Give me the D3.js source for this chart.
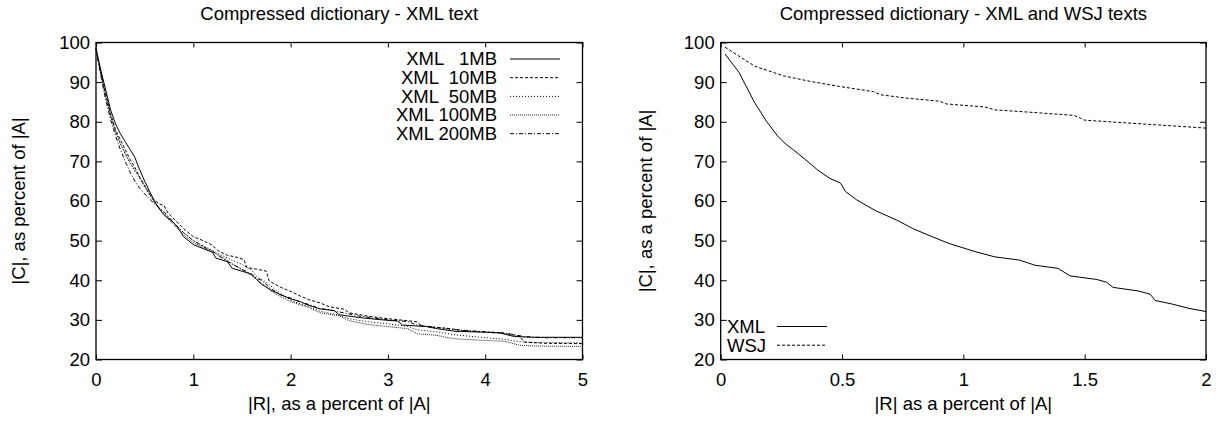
<!DOCTYPE html>
<html><head><meta charset="utf-8">
<script src="https://cdn.jsdelivr.net/npm/d3@7/dist/d3.min.js"></script>
<style>
body{margin:0;background:#fff;}
text{font-family:"Liberation Sans",Arial,Helvetica,sans-serif;fill:#000;}
</style></head><body>
<svg id="c" width="1220" height="422"></svg>
<script>
// ---------- data ----------
const leftXTicks = [0,1,2,3,4,5];
const rightXTicks = [0,0.5,1,1.5,2];
const yTicks = [20,30,40,50,60,70,80,90,100];

const leftLabels = ["XML   1MB","XML  10MB","XML  50MB","XML 100MB","XML 200MB"];
const rightLabels = ["XML","WSJ"];

const xml1mb = [[0,98.5],[0.05,93],[0.1,88],[0.15,83],[0.2,79.5],[0.25,77],[0.3,75],[0.35,73],[0.4,71],[0.43,69],[0.5,65],[0.55,62.5],[0.6,60],[0.65,58],[0.7,56.5],[0.8,54.5],[0.85,53],[0.9,51],[1.0,49],[1.1,48],[1.2,47],[1.23,45.6],[1.35,44.7],[1.4,43],[1.5,42.3],[1.6,41.5],[1.65,40.2],[1.7,39],[1.8,37.5],[1.9,36.3],[2.0,35.3],[2.1,34.6],[2.15,34],[2.3,32.8],[2.45,32.3],[2.5,31.3],[2.7,30.6],[2.9,30.1],[3.1,29.7],[3.15,28.7],[3.4,28.3],[3.5,27.8],[3.7,27.1],[4.0,26.9],[4.15,26.7],[4.3,25.8],[4.5,25.6],[5,25.6]];
const xml10mb = [[0,98.3],[0.05,92.5],[0.1,87],[0.15,82],[0.2,78],[0.25,75.5],[0.3,73],[0.35,70.5],[0.4,68.5],[0.45,66],[0.5,63.8],[0.55,61.8],[0.6,60.2],[0.65,59.3],[0.7,58.8],[0.74,57],[0.8,55.5],[0.9,53],[1.0,51],[1.1,50],[1.2,48.8],[1.25,47.5],[1.35,46.3],[1.45,45.8],[1.52,45.2],[1.55,43.2],[1.65,42.8],[1.75,42.3],[1.78,39.8],[1.9,38.2],[2.0,37.2],[2.1,36],[2.2,35],[2.3,34.3],[2.4,33.3],[2.55,32.7],[2.6,31.8],[2.8,30.9],[3.0,30.3],[3.2,29.8],[3.3,29.5],[3.35,28.4],[3.6,27.9],[3.7,27.6],[3.8,27.2],[4.0,26.9],[4.2,26.6],[4.35,25.9],[4.4,24.4],[4.6,24.1],[5,24.0]];
const xml50mb = [[0,98.5],[0.05,92],[0.1,86.5],[0.15,81.5],[0.2,77.5],[0.25,74.5],[0.3,72],[0.35,69.5],[0.4,67.5],[0.45,65.5],[0.5,63.5],[0.55,61.5],[0.6,59.5],[0.7,57],[0.8,54.5],[0.9,52],[1.0,50],[1.1,48.7],[1.2,47.5],[1.3,46.2],[1.4,45],[1.5,44],[1.55,43.3],[1.6,42.5],[1.65,41],[1.75,39.5],[1.85,37.5],[2.0,35],[2.1,34],[2.2,33.3],[2.3,32.2],[2.5,31.2],[2.6,30.3],[2.8,29.5],[3.0,29],[3.2,28.4],[3.3,27.5],[3.5,27],[3.7,26.2],[4.0,25.5],[4.2,25.1],[4.35,24.5],[4.5,24.3],[5,24.2]];
const xml100mb = [[0,98.4],[0.05,92],[0.1,86.5],[0.15,81.5],[0.2,77.5],[0.25,74.5],[0.3,72],[0.35,69.7],[0.4,67.8],[0.45,66],[0.5,64],[0.55,62],[0.6,59.8],[0.7,56.5],[0.8,54],[0.9,51.5],[1.0,49.5],[1.1,48.3],[1.2,47.2],[1.3,45.8],[1.4,44.2],[1.5,42.7],[1.6,41.2],[1.7,39.3],[1.8,37.3],[1.9,35.8],[2.0,34.6],[2.2,33],[2.3,31.8],[2.5,31],[2.6,29.8],[2.8,28.8],[3.0,28.3],[3.2,27.8],[3.3,26.5],[3.5,26.1],[3.6,25.6],[3.7,25.2],[4.0,24.8],[4.2,24.6],[4.35,23.6],[4.5,23.4],[5,23.3]];
const xml200mb = [[0,98.3],[0.05,91.5],[0.1,85.5],[0.15,80.5],[0.2,76.5],[0.25,73],[0.3,70],[0.35,67.3],[0.4,65],[0.45,63.2],[0.5,61.8],[0.55,60.5],[0.6,59.3],[0.7,57.3],[0.8,54.5],[0.9,52],[1.0,50],[1.1,48.5],[1.2,47.3],[1.3,45.5],[1.4,44],[1.5,42.8],[1.6,41.5],[1.65,40.5],[1.7,40],[1.8,37.8],[1.9,36.3],[2.0,35.5],[2.1,34.5],[2.2,33.8],[2.3,32.8],[2.4,32.6],[2.5,32],[2.7,31],[3.0,30],[3.2,29.6],[3.3,28.7],[3.5,28.1],[3.7,27.5],[4.0,27],[4.2,26.7],[4.4,25.8],[4.6,25.5],[5,25.5]];

const xmlText = [[0.018,97.1],[0.075,92.5],[0.14,84.8],[0.19,80],[0.237,76.2],[0.27,74.3],[0.3,72.9],[0.35,70.4],[0.4,67.8],[0.45,65.7],[0.494,64.5],[0.514,62.4],[0.56,60.3],[0.64,57.5],[0.725,55.2],[0.79,53.1],[0.855,51.4],[0.94,49.3],[1.05,47.2],[1.13,45.9],[1.23,45.1],[1.295,43.8],[1.39,43.0],[1.44,41.1],[1.55,40.2],[1.59,39.5],[1.617,38.2],[1.72,37.3],[1.77,36.5],[1.79,34.9],[1.86,34.0],[1.93,32.9],[2.0,32.1]];
const wsjText = [[0.018,98.8],[0.141,94.0],[0.258,91.6],[0.368,90.2],[0.49,88.9],[0.63,87.6],[0.66,86.8],[0.76,86.0],[0.9,85.2],[0.93,84.5],[1.09,83.7],[1.13,83.0],[1.3,82.3],[1.456,81.6],[1.5,80.4],[1.7,79.6],[2.0,78.4]];

// ---------- drawing ----------
const svg = d3.select("#c");
const FS = 18.5;
const plotTop = 42.5, plotBottom = 359.5;

function panel(cfg){
  const x = d3.scaleLinear().domain(cfg.xDomain).range([cfg.left, cfg.right]);
  const y = d3.scaleLinear().domain([20,100]).range([plotBottom, plotTop]);
  const g = svg.append("g");

  const ax = g.append("g").attr("transform",`translate(0,${plotBottom})`)
    .call(d3.axisBottom(x).tickValues(cfg.xTicks).tickSizeInner(-5).tickSizeOuter(0).tickPadding(13).tickFormat(d3.format("")));
  const axT = g.append("g").attr("transform",`translate(0,${plotTop})`)
    .call(d3.axisTop(x).tickValues(cfg.xTicks).tickSizeInner(-5).tickSizeOuter(0).tickFormat(""));
  const ay = g.append("g").attr("transform",`translate(${cfg.left},0)`)
    .call(d3.axisLeft(y).tickValues(yTicks).tickSizeInner(-6).tickSizeOuter(0).tickPadding(6));
  const ayR = g.append("g").attr("transform",`translate(${cfg.right},0)`)
    .call(d3.axisRight(y).tickValues(yTicks).tickSizeInner(-6).tickSizeOuter(0).tickFormat(""));
  [ax,axT,ay,ayR].forEach(a=>{
    a.select(".domain").remove();
    a.selectAll("line").attr("stroke","#000").attr("stroke-width",1);
    a.selectAll("text").attr("font-size",FS).attr("font-family","Liberation Sans, Arial, sans-serif").attr("fill","#000");
  });
  g.append("rect").attr("x",cfg.left).attr("y",plotTop).attr("width",cfg.right-cfg.left).attr("height",plotBottom-plotTop)
    .attr("fill","none").attr("stroke","#000").attr("stroke-width",1.3);

  const cx = (cfg.left+cfg.right)/2;
  g.append("text").attr("x",cx).attr("y",20).attr("text-anchor","middle").attr("font-size",FS).text(cfg.title);
  g.append("text").attr("x",cx).attr("y",410).attr("text-anchor","middle").attr("font-size",FS).text(cfg.xTitle);
  g.append("text").attr("transform",`translate(${cfg.yTitleX},${(plotTop+plotBottom)/2}) rotate(-90)`)
    .attr("text-anchor","middle").attr("dy","0.35em").attr("font-size",FS).text(cfg.yTitle);

  const line = d3.line().x(d=>x(d[0])).y(d=>y(d[1]));
  cfg.series.forEach((s,i)=>{
    g.append("path").datum(s.data).attr("d",line).attr("fill","none")
      .attr("stroke",s.color).attr("stroke-width",1).attr("stroke-dasharray",s.dash);
    const ly = cfg.legendY[i];
    g.append("text").attr("x",cfg.legendTextX).attr("y",ly).attr("dy","0.35em")
      .attr("text-anchor",cfg.legendAnchor).attr("font-size",FS)
      .style("white-space","pre").text(s.label);
    g.append("line").attr("x1",cfg.sampleX[0]).attr("x2",cfg.sampleX[1]).attr("y1",ly).attr("y2",ly)
      .attr("stroke",s.color).attr("stroke-width",1).attr("stroke-dasharray",s.dash);
  });
}

const dashes = [null,"3,2","1,2","1,1","4,2,1,2"];
const colors = ["#000","#000","#000","#222","#000"];

panel({
  left:96, right:582.5, xDomain:[0,5], xTicks:leftXTicks,
  title:"Compressed dictionary - XML text",
  xTitle:"|R|, as a percent of |A|",
  yTitle:"|C|, as percent of |A|", yTitleX:19,
  legendTextX:497, legendAnchor:"end", sampleX:[510,560],
  legendY:[59,77.7,96.4,115,133.7],
  series:[xml1mb,xml10mb,xml50mb,xml100mb,xml200mb].map((d,i)=>({data:d,label:leftLabels[i],dash:dashes[i],color:colors[i]}))
});

panel({
  left:720.7, right:1206, xDomain:[0,2], xTicks:rightXTicks,
  title:"Compressed dictionary - XML and WSJ texts",
  xTitle:"|R| as a percent of |A|",
  yTitle:"|C|, as a percent of |A|", yTitleX:646,
  legendTextX:727, legendAnchor:"start", sampleX:[777,827],
  legendY:[326.5,345.2],
  series:[xmlText,wsjText].map((d,i)=>({data:d,label:rightLabels[i],dash:dashes[i],color:"#000"}))
});
</script>
</body></html>
